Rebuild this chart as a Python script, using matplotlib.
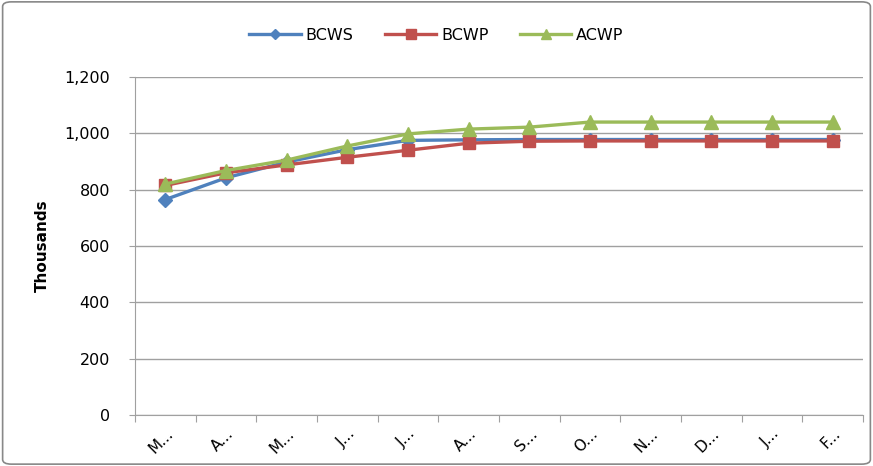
import matplotlib
matplotlib.use("Agg")
import matplotlib.pyplot as plt
from matplotlib.patches import FancyBboxPatch

months = ["M...", "A...", "M...", "J...", "J...", "A...", "S...", "O...", "N...", "D...", "J...", "F..."]
bcws = [765, 842, 898, 942, 975, 977, 978, 978, 978, 978, 978, 978]
bcwp = [815, 860, 888, 915, 940, 965, 972, 973, 973, 973, 973, 973]
acwp = [820, 868, 905, 955, 998, 1015, 1022, 1040, 1040, 1040, 1040, 1040]
yticks = [0, 200, 400, 600, 800, 1000, 1200]

fig = plt.figure(figsize=(8.73, 4.66), dpi=100)
ax = fig.add_axes([135/873, 1-415/466, 728/873, 338/466])

x = list(range(len(months)))
ax.plot(x, bcws, color="#4F81BD", lw=2.4, marker="D", ms=7, label="BCWS", zorder=3)
ax.plot(x, bcwp, color="#C0504D", lw=2.4, marker="s", ms=9, label="BCWP", zorder=4)
ax.plot(x, acwp, color="#9BBB59", lw=2.4, marker="^", ms=10, label="ACWP", zorder=5)

ax.set_xlim(-0.5, len(months) - 0.5)
ax.set_ylim(0, 1200)
ax.set_yticks(yticks)
ax.set_yticklabels([f"{v:,}" for v in yticks], fontsize=11.5)
ax.yaxis.grid(True, color="#A0A0A0", lw=1)
ax.set_axisbelow(True)
ax.tick_params(axis="y", length=4, color="#A0A0A0", pad=14)

ax.set_xticks([i - 0.5 for i in range(len(months) + 1)], minor=False)
ax.set_xticklabels([""] * (len(months) + 1))
ax.tick_params(axis="x", length=5, color="#A0A0A0")
ax.set_xticks(x, minor=True)
ax.set_xticklabels(months, minor=True, rotation=45, ha="right", va="top", fontsize=11, rotation_mode="anchor")
ax.tick_params(axis="x", which="minor", length=0, pad=8)

for s in ["top", "right"]:
    ax.spines[s].set_visible(False)
for s in ["left", "bottom"]:
    ax.spines[s].set_color("#A0A0A0")

ax.set_ylabel("Thousands", fontsize=11, fontweight="bold", labelpad=10)

fig.legend(loc="center", bbox_to_anchor=(0.5, 1 - 35/466), ncol=3, frameon=False,
           fontsize=11.5, handlelength=3.2, columnspacing=2.0, handletextpad=0.3, markerscale=0.75)

border = FancyBboxPatch((0.003, 0.004), 0.994, 0.992, boxstyle="round,pad=0,rounding_size=0.01",
                        transform=fig.transFigure, fill=False, edgecolor="#888888", lw=1.2)
fig.patches.append(border)

fig.savefig("out.png", dpi=100)
